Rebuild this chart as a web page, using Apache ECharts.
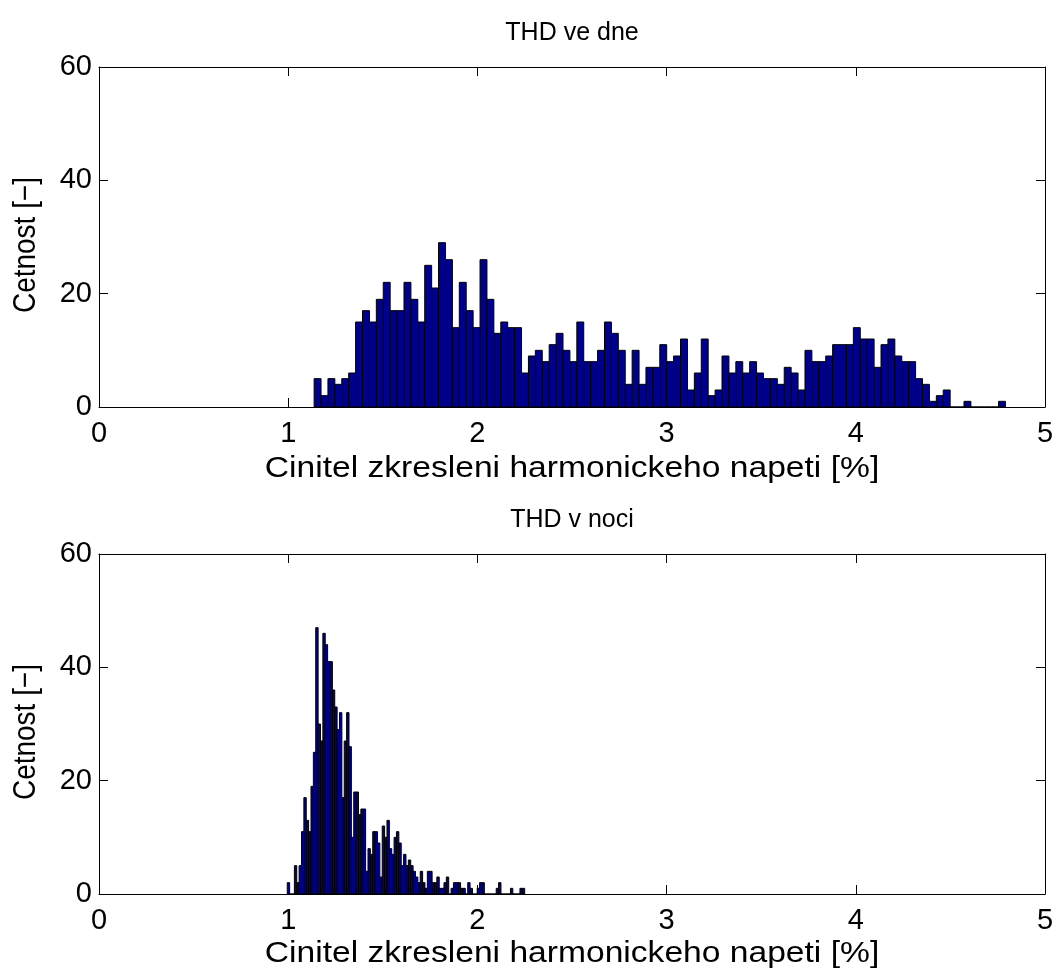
<!DOCTYPE html>
<html>
<head>
<meta charset="utf-8">
<script src="https://cdn.jsdelivr.net/npm/echarts@6/dist/echarts.min.js"></script>
<style>
html,body{margin:0;padding:0;background:#fff;}
#chart{width:1060px;height:974px;}
</style>
</head>
<body>
<div id="chart"></div>
<script>
// ---- data ----
const titles = ['THD ve dne', 'THD v noci'];
const xAxisName = 'Cinitel zkresleni harmonickeho napeti [%]';
const yAxisName = 'Cetnost [−]';
const xTicks = [0, 1, 2, 3, 4, 5];
const yTicks = [0, 20, 40, 60];

// day histogram: 100 bins between dayMin and dayMax
const dayMin = 1.137;
const dayMax = 4.791;
const dayCounts = [
  5, 2, 5, 4, 5, 6, 15, 17, 15, 19,
  22, 17, 17, 22, 19, 15, 25, 21, 29, 26,
  14, 22, 17, 14, 26, 19, 13, 15, 14, 14,
  6, 9, 10, 8, 11, 13, 10, 8, 15, 8,
  8, 10, 15, 13, 10, 4, 10, 4, 7, 7,
  11, 8, 9, 12, 3, 6, 12, 2, 3, 9,
  6, 8, 6, 8, 6, 5, 5, 4, 7, 6,
  3, 10, 8, 8, 9, 11, 11, 11, 14, 12,
  12, 7, 11, 12, 9, 8, 8, 5, 4, 1,
  2, 3, 0, 0, 1, 0, 0, 0, 0, 1
];

// night histogram: 100 bins between nightMin and nightMax
const nightMin = 0.995;
const nightMax = 2.250;
const nightCounts = [
  2, 0, 0, 5, 2, 5, 11, 17, 13, 11,
  19, 25, 47, 30, 27, 46, 44, 41, 41, 36,
  33, 29, 32, 17, 27, 32, 26, 10, 18, 18,
  14, 15, 15, 4, 8, 7, 11, 11, 9, 3,
  12, 10, 13, 8, 7, 10, 11, 9, 5, 7,
  5, 6, 5, 4, 3, 2, 4, 2, 1, 4,
  4, 2, 2, 3, 1, 1, 2, 3, 0, 1,
  2, 2, 2, 1, 1, 0, 2, 1, 0, 0,
  1, 2, 2, 0, 0, 0, 0, 0, 1, 2,
  0, 0, 0, 0, 1, 0, 0, 0, 1, 1
];

// ---- build ----
function binData(mn, mx, counts) {
  const w = (mx - mn) / counts.length;
  return counts.map((c, i) => [mn + i * w, mn + (i + 1) * w, c]);
}

const FONT = '"Liberation Sans", Arial, Helvetica, sans-serif';
const grids = [
  {left: 99, right: 15, top: 67, height: 340},
  {left: 99, right: 15, top: 554, height: 340}
];

const xAxes = [], yAxes = [];
grids.forEach((g, gi) => {
  xAxes.push({
    gridIndex: gi, type: 'value', min: 0, max: 5, interval: 1, position: 'bottom',
    axisLine: {onZero: false, lineStyle: {color: '#000', width: 1}},
    axisTick: {inside: true, length: 9, lineStyle: {color: '#000'}},
    axisLabel: {fontFamily: FONT, fontSize: 29, color: '#000', margin: 12},
    splitLine: {show: false}
  });
  xAxes.push({
    gridIndex: gi, type: 'value', min: 0, max: 5, interval: 1, position: 'top',
    axisLine: {onZero: false, lineStyle: {color: '#000', width: 1}},
    axisTick: {inside: true, length: 9, lineStyle: {color: '#000'}},
    axisLabel: {show: false}, splitLine: {show: false}
  });
  yAxes.push({
    gridIndex: gi, type: 'value', min: 0, max: 60, interval: 20, position: 'left',
    axisLine: {onZero: false, lineStyle: {color: '#000', width: 1}},
    axisTick: {inside: true, length: 9, lineStyle: {color: '#000'}},
    axisLabel: {fontFamily: FONT, fontSize: 29, color: '#000', margin: 7},
    splitLine: {show: false}
  });
  yAxes.push({
    gridIndex: gi, type: 'value', min: 0, max: 60, interval: 20, position: 'right',
    axisLine: {onZero: false, lineStyle: {color: '#000', width: 1}},
    axisTick: {inside: true, length: 9, lineStyle: {color: '#000'}},
    axisLabel: {show: false}, splitLine: {show: false}
  });
});

function renderBar(params, api) {
  const x0 = api.value(0), x1 = api.value(1), v = api.value(2);
  const p0 = api.coord([x0, 0]);
  const p1 = api.coord([x1, v]);
  return {
    type: 'rect',
    shape: {x: p0[0], y: p1[1], width: p1[0] - p0[0], height: p0[1] - p1[1]},
    style: {fill: '#00008f', stroke: '#000', lineWidth: 1}
  };
}

function txt(text, x, y, size, sx, sy, rot) {
  return {
    type: 'text', x: x, y: y, rotation: rot || 0, scaleX: sx, scaleY: sy,
    style: {text: text, font: size + 'px ' + FONT, fill: '#000',
            textAlign: 'center', textVerticalAlign: 'middle'}
  };
}

const option = {
  animation: false,
  backgroundColor: '#fff',
  grid: grids,
  xAxis: xAxes,
  yAxis: yAxes,
  graphic: [
    txt(titles[0], 572, 33, 25, 1, 1),
    txt(titles[1], 572, 520, 25, 1, 1),
    txt(xAxisName, 572, 469, 30, 1.12, 1),
    txt(xAxisName, 572, 954, 30, 1.12, 1),
    txt(yAxisName, 27, 245, 28, 1, 1.1, Math.PI / 2),
    txt(yAxisName, 27, 732, 28, 1, 1.1, Math.PI / 2)
  ],
  series: [
    {type: 'custom', xAxisIndex: 0, yAxisIndex: 0, renderItem: renderBar,
     encode: {x: [0, 1], y: 2}, data: binData(dayMin, dayMax, dayCounts)},
    {type: 'custom', xAxisIndex: 2, yAxisIndex: 2, renderItem: renderBar,
     encode: {x: [0, 1], y: 2}, data: binData(nightMin, nightMax, nightCounts)}
  ]
};

const chart = echarts.init(document.getElementById('chart'), null, {renderer: 'canvas'});
chart.setOption(option);
</script>
</body>
</html>
